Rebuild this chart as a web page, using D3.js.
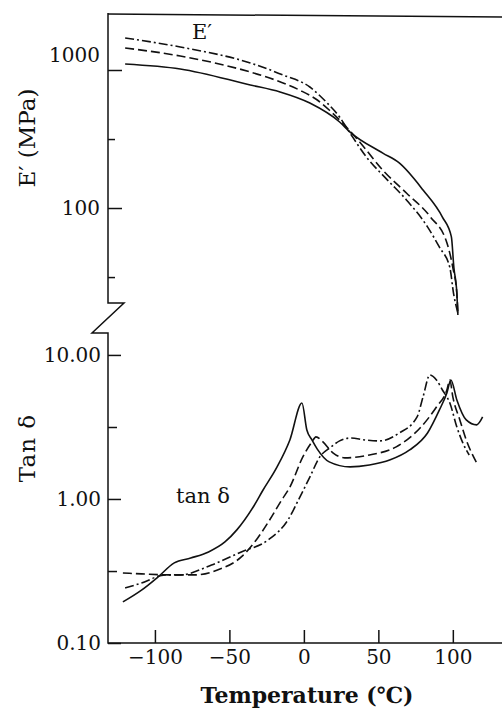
<!DOCTYPE html>
<html>
<head>
<script src="https://d3js.org/d3.v7.min.js"></script>
<style>
  body { margin: 0; background: #fff; }
  text { font-family: "DejaVu Serif", serif; fill: #111; }
  .tick line { stroke: #111; stroke-width: 1.5; }
  .curve { fill: none; stroke: #111; stroke-width: 1.6; }
</style>
</head>
<body>
<svg width="502" height="713"></svg>
<script>
// storage modulus E' (MPa) vs temperature, three samples
const eSolid = [[-120,1105],[-83,1017],[-36,779],[-16,693],[4,576],[24,420],[31,355],[53,250],[64,212],[80,135],[93,86],[99,62],[100.7,37],[102.7,24],[103.4,16.8]];
const eDashed = [[-120,1443],[-83,1263],[-36,967],[-23,875],[-3,716],[9,606],[17,513],[26,413],[38,296],[53,188],[69,128],[85,86],[96,56],[100,37],[102.7,24],[103.4,17.3]];
const eDashDot = [[-120,1706],[-83,1468],[-36,1124],[-14,920],[4,753],[15,586],[24,456],[31,349],[42,234],[56,160],[69,114],[83,73],[91,52],[98,37],[100.5,24],[103.4,17.3]];

// loss factor tan δ vs temperature
const tSolid = [[-121.5,0.193],[-109,0.233],[-98,0.287],[-87,0.36],[-76,0.389],[-64,0.429],[-53,0.503],[-45,0.61],[-34,0.88],[-27.5,1.15],[-18,1.67],[-9.4,2.57],[-1.3,4.64],[2,3.01],[5.4,2.57],[9,2.22],[17,1.81],[31,1.67],[44,1.72],[58,1.87],[71,2.19],[83,2.87],[91,4.15],[96,5.45],[98.7,6.7],[102.7,4.87],[109,3.54],[116,3.27],[120,3.71]];
const tDashed = [[-121.5,0.306],[-109,0.302],[-91,0.297],[-73,0.297],[-58,0.321],[-42,0.396],[-31,0.536],[-23,0.715],[-15,0.98],[-9.4,1.21],[-0.7,1.96],[5.4,2.49],[8.1,2.7],[12.8,2.49],[19.5,2.09],[27.5,1.93],[44,2.02],[62,2.3],[78,3.11],[89,4.35],[96,5.71],[98,6.7],[100,5.11],[104.7,3.54],[109,2.57],[116,1.78]];
const tDashDot = [[-120,0.241],[-109,0.261],[-93,0.297],[-83,0.297],[-62,0.348],[-42,0.429],[-24,0.519],[-10.7,0.715],[-2.7,1.03],[4,1.42],[10.7,1.96],[17.4,2.26],[24,2.53],[31,2.65],[41,2.57],[51,2.53],[64,2.87],[76,3.71],[80,5.11],[84.6,7.26],[89,6.7],[93,5.71],[98,4.64],[102.7,3.16],[106.7,2.45],[111,2.02]];

const xTicks = [-100, -50, 0, 50, 100];
const eTicks = [100, 1000];
const eMinor = [31.6, 316];
const tTicks = [0.1, 1, 10];
const tMinor = [0.316, 3.16];

const svg = d3.select("svg");
const axisX = 108;

const x = d3.scaleLinear().domain([-131.5, 132]).range([axisX, 500.5]);
const yE = d3.scaleLog().domain([20.5, 2588]).range([303, 13]);
const yT = d3.scaleLog().domain([0.1, 14.2]).range([643, 333]);

// frame: top line, broken left axis, bottom axis
svg.append("path")
  .attr("d", `M${axisX},14 L502,17`)
  .attr("stroke", "#111").attr("stroke-width", 1.5).attr("fill", "none");
svg.append("path")
  .attr("d", `M${axisX},13 L${axisX},303 L124,303 L92,333 L${axisX},333 L${axisX},643 L502,643`)
  .attr("stroke", "#111").attr("stroke-width", 1.5).attr("fill", "none");

// top panel ticks
const gE = svg.append("g").attr("transform", `translate(${axisX},0)`)
  .call(d3.axisLeft(yE).tickValues(eTicks).tickSize(-14).tickPadding(8).tickFormat(d3.format("d")));
gE.select(".domain").remove();
gE.selectAll(".tick text").attr("font-size", 20)
  .attr("dy", d => d === 1000 ? "-0.42em" : "0.32em");
const gEm = svg.append("g").attr("transform", `translate(${axisX},0)`)
  .call(d3.axisLeft(yE).tickValues(eMinor).tickSize(-7).tickFormat(""));
gEm.select(".domain").remove();

// bottom panel ticks
const gT = svg.append("g").attr("transform", `translate(${axisX},0)`)
  .call(d3.axisLeft(yT).tickValues(tTicks).tickSize(-13).tickPadding(7).tickFormat(d3.format(".2f")));
gT.select(".domain").remove();
gT.selectAll(".tick text").attr("font-size", 20);
const gTm = svg.append("g").attr("transform", `translate(${axisX},0)`)
  .call(d3.axisLeft(yT).tickValues(tMinor).tickSize(-9).tickFormat(""));
gTm.select(".domain").remove();

// x axis
const gX = svg.append("g").attr("transform", "translate(0,643)")
  .call(d3.axisBottom(x).tickValues(xTicks).tickSize(-13).tickPadding(7));
gX.select(".domain").remove();
gX.selectAll(".tick text").attr("font-size", 20);

// curves
const lineE = d3.line().x(d => x(d[0])).y(d => yE(d[1])).curve(d3.curveMonotoneX);
const lineT = d3.line().x(d => x(d[0])).y(d => yT(d[1])).curve(d3.curveMonotoneX);
const dashes = [null, "9,4", "9,3,2,3"];

[eSolid, eDashed, eDashDot].forEach((s, i) => {
  svg.append("path").attr("class", "curve").attr("d", lineE(s))
    .attr("stroke-dasharray", dashes[i]);
});
[tSolid, tDashed, tDashDot].forEach((s, i) => {
  svg.append("path").attr("class", "curve").attr("d", lineT(s))
    .attr("stroke-dasharray", dashes[i]);
});

// labels
svg.append("text").attr("x", 202).attr("y", 39).attr("text-anchor", "middle")
  .attr("font-size", 21).text("E′");
svg.append("text").attr("x", 203).attr("y", 503).attr("text-anchor", "middle")
  .attr("font-size", 21).text("tan δ");
svg.append("text").attr("transform", "translate(35,138) rotate(-90)")
  .attr("text-anchor", "middle").attr("font-size", 23).text("E′ (MPa)");
svg.append("text").attr("transform", "translate(35,448) rotate(-90)")
  .attr("text-anchor", "middle").attr("font-size", 23).attr("letter-spacing", 1).text("Tan δ");
svg.append("text").attr("x", 307).attr("y", 703).attr("text-anchor", "middle")
  .attr("font-size", 22).attr("font-weight", "bold").text("Temperature (℃)");
</script>
</body>
</html>
